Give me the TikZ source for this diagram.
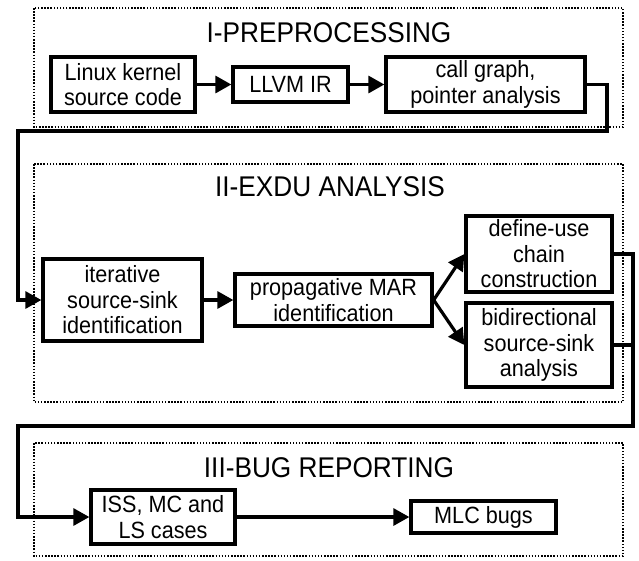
\documentclass[tikz,border=0pt]{standalone}
\usepackage{fontspec}
\setmainfont{Liberation Sans}[FakeStretch=0.92]
\usetikzlibrary{arrows.meta}

\begin{document}
\begin{tikzpicture}[x=1pt,y=-1pt,
           box_style/.style={rectangle,draw=black,line width=3.3pt,inner sep=0pt,align=center,
                             font=\fontsize{23.5}{25.5}\selectfont},
           title_style/.style={font=\fontsize{28.5}{30}\selectfont},
           frame_style/.style={draw=black,line width=1.3pt,dash pattern=on 1.5pt off 1.6pt},
           edge_style/.style={draw=black,line width=3.2pt,-{Triangle[length=16pt,width=17pt]}},
           line_style/.style={draw=black,line width=3.2pt}]
            \useasboundingbox (0,0) rectangle (639,560);
            % the three stages
            \draw[frame_style] (34,8) rectangle (623,127);
            \draw[frame_style] (34,164) rectangle (623,402);
            \draw[frame_style] (34,443) rectangle (623,556);
            \node[title_style] (t1) at (329,33)  {I-PREPROCESSING};
            \node[title_style] (t2) at (330,187) {II-EXDU ANALYSIS};
            \node[title_style] (t3) at (329,468) {III-BUG REPORTING};
            % stage I
            \node[box_style,minimum width=144,minimum height=55] (linux) at (123,84.5)   {Linux kernel\\source code};
            \node[box_style,minimum width=115,minimum height=35] (llvm)  at (290.5,84.5) {LLVM IR};
            \node[box_style,minimum width=199,minimum height=55] (cg)    at (485.5,84.5) {call graph,\\pointer analysis};
            % stage II
            \node[box_style,minimum width=159,minimum height=82] (iter) at (122.5,300) {iterative\\source-sink\\identification};
            \node[box_style,minimum width=197,minimum height=52] (prop) at (333.5,300) {propagative MAR\\identification};
            \node[box_style,minimum width=146,minimum height=76] (du)   at (539,254)   {define-use\\chain\\construction};
            \node[box_style,minimum width=146,minimum height=84] (bi)   at (539,345)   {bidirectional\\source-sink\\analysis};
            % stage III
            \node[box_style,minimum width=144,minimum height=54] (iss) at (163,517)   {ISS, MC and\\LS cases};
            \node[box_style,minimum width=145,minimum height=32] (mlc) at (483.5,517) {MLC bugs};
            % connections
            \draw[edge_style] (linux) -- (llvm);
            \draw[edge_style] (llvm) -- (cg);
            \draw[edge_style] (cg.east) -| (607,131) -| (18,300) -- (iter);
            \draw[edge_style] (iter) -- (prop);
            \draw[edge_style] (prop.east) -- (du.west);
            \draw[edge_style] (prop.east) -- (bi.west);
            \draw[line_style] (bi.east) -- (633,345);
            \draw[edge_style] (du.east) -| (633,426) -| (18,517) -- (iss);
            \draw[edge_style] (iss) -- (mlc);
        \end{tikzpicture}
\end{document}
